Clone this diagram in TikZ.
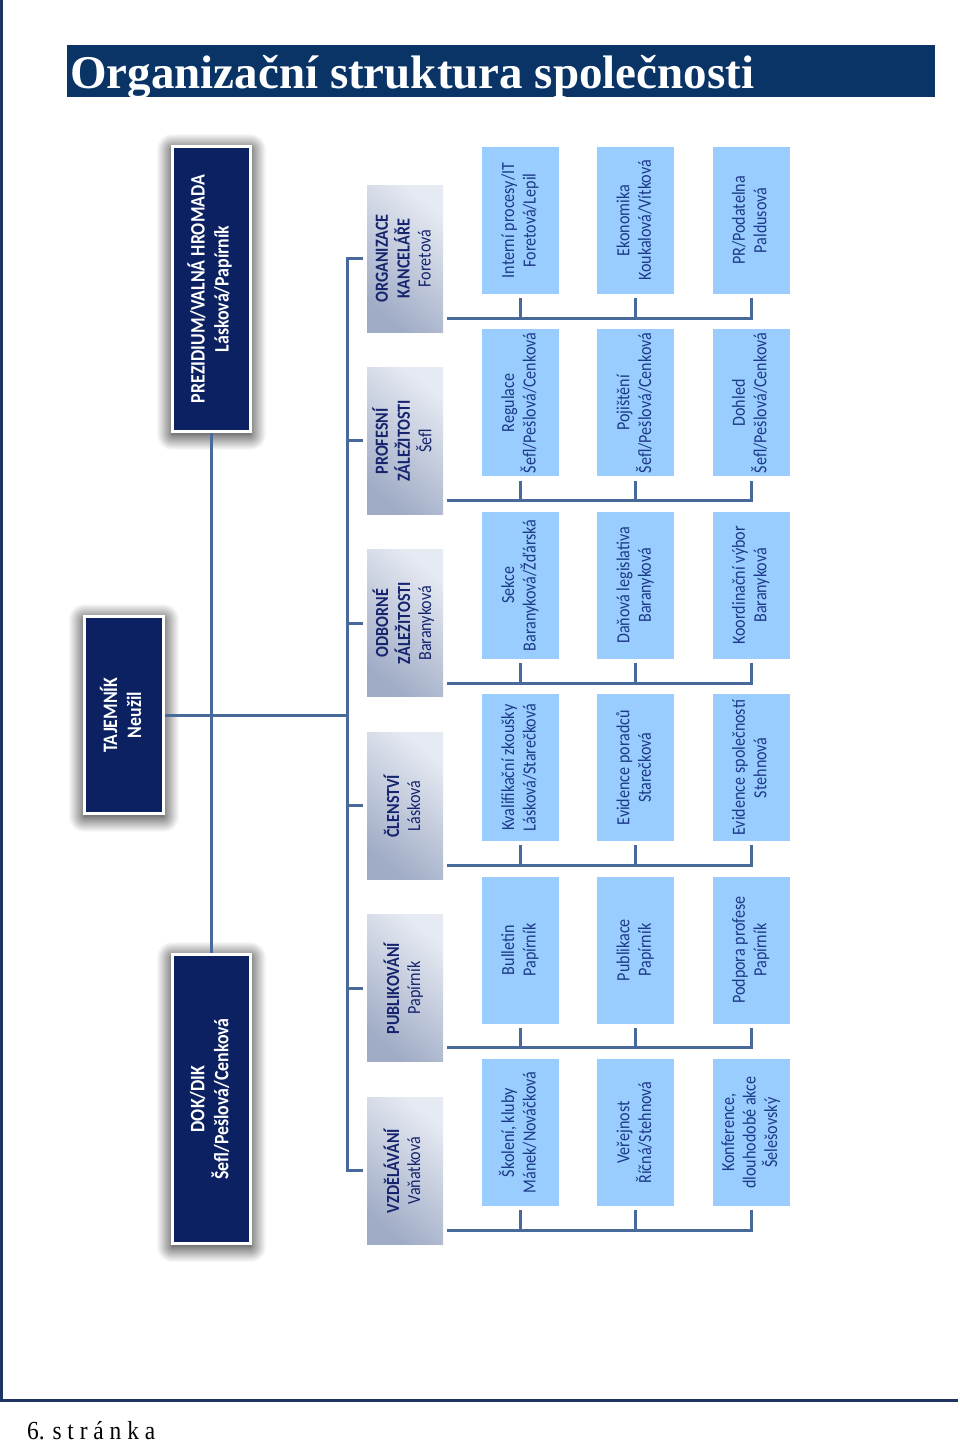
\documentclass[tikz,border=0pt]{standalone}
\usepackage{fontspec}
\setmainfont{Carlito}
\newfontfamily\serifface{Liberation Serif}
\usepackage{graphicx}
\usepackage{xcolor}
\usepackage{tikz}
\usetikzlibrary{positioning,calc,shadows.blur}

\definecolor{navybox}{RGB}{12,33,97}
\definecolor{titleblue}{RGB}{10,51,102}
\definecolor{leafblue}{RGB}{153,204,255}
\definecolor{leaftext}{RGB}{28,58,135}
\definecolor{greytext}{RGB}{22,36,110}
\definecolor{greylight}{RGB}{230,234,242}
\definecolor{greydark}{RGB}{160,172,198}
\definecolor{connblue}{RGB}{72,106,155}
\definecolor{pageline}{RGB}{31,52,96}

\newcommand{\vtxt}[1]{\rotatebox{90}{\scalebox{0.87}[1]{\begin{tabular}{@{}c@{}}#1\end{tabular}}}}

\begin{document}
\begin{tikzpicture}[x=1pt, y=-1pt,
  headbox/.style={draw=white, line width=3pt, fill=navybox, text=white,
    font=\fontsize{20.5}{24}\selectfont\bfseries, inner sep=0pt,
    minimum width=78pt, minimum height=285pt,
    blur shadow={shadow xshift=0pt, shadow yshift=-3pt, shadow blur steps=40,
      shadow blur radius=16pt, shadow opacity=100}},
  deptbox/.style={inner sep=0pt, minimum width=76pt, minimum height=147pt,
    top color=greylight, bottom color=greydark, shading angle=-40,
    text=greytext, font=\fontsize{18.5}{21}\selectfont},
  leafbox/.style={fill=leafblue, inner sep=0pt, minimum width=77pt,
    minimum height=147pt, text=leaftext, font=\fontsize{18.5}{21.5}\selectfont},
  conn/.style={draw=connblue, line width=3pt}
]
  \useasboundingbox (0,0) rectangle (960,1443);

  % page frame and title
  \draw[pageline, line width=3pt] (1.5,0) -- (1.5,1400) -- (958,1400);
  \node[fill=titleblue, minimum width=868pt, minimum height=52pt, inner sep=0pt,
    anchor=north west] (band) at (67,45) {};
  \node[anchor=base west, inner sep=0pt, text=white,
    font=\serifface\fontsize{47}{50}\selectfont\bfseries] (title) at (70,88)
    {Organizační struktura společnosti};
  \node[anchor=base west, inner sep=0pt, font=\serifface\fontsize{26}{28}\selectfont]
    (pagenum) at (27,1439) {\scalebox{0.9}[1]{6. s t r á n k a}};

  % top level
  \node[headbox] (prez) at (211.5,289)
    {\vtxt{PREZIDIUM/VALNÁ HROMADA\\Lásková/Papírník}};
  \node[headbox, minimum width=79pt, minimum height=197pt] (taj) at (124,715)
    {\vtxt{TAJEMNÍK\\Neužil}};
  \node[headbox, minimum height=289pt] (dok) at (211.5,1099)
    {\vtxt{DOK/DIK\\Šefl/Pešlová/Cenková}};

  % departments
  \node[deptbox] (org) at (405,258.5)
    {\vtxt{\textbf{ORGANIZACE}\\\textbf{KANCELÁŘE}\\Foretová}};
  \node[deptbox, below=35pt of org] (prof)
    {\vtxt{\textbf{PROFESNÍ}\\\textbf{ZÁLEŽITOSTI}\\Šefl}};
  \node[deptbox, below=35pt of prof] (odb)
    {\vtxt{\textbf{ODBORNÉ}\\\textbf{ZÁLEŽITOSTI}\\Baranyková}};
  \node[deptbox, below=35pt of odb] (clen)
    {\vtxt{\textbf{ČLENSTVÍ}\\Lásková}};
  \node[deptbox, below=35pt of clen] (pub)
    {\vtxt{\textbf{PUBLIKOVÁNÍ}\\Papírník}};
  \node[deptbox, below=35pt of pub] (vzd)
    {\vtxt{\textbf{VZDĚLÁVÁNÍ}\\Vaňatková}};

  % sections
  \node[leafbox] (org1) at (520.5,220.5) {\vtxt{Interní procesy/IT\\Foretová/Lepil}};
  \node[leafbox, right=38pt of org1] (org2) {\vtxt{Ekonomika\\Koukalová/Vítková}};
  \node[leafbox, right=38pt of org2] (org3) {\vtxt{PR/Podatelna\\Paldusová}};

  \node[leafbox, below=35pt of org1] (prof1) {\vtxt{Regulace\\Šefl/Pešlová/Cenková}};
  \node[leafbox, right=38pt of prof1] (prof2) {\vtxt{Pojištění\\Šefl/Pešlová/Cenková}};
  \node[leafbox, right=38pt of prof2] (prof3) {\vtxt{Dohled\\Šefl/Pešlová/Cenková}};

  \node[leafbox, below=35pt of prof1] (odb1) {\vtxt{Sekce\\Baranyková/Žďárská}};
  \node[leafbox, right=38pt of odb1] (odb2) {\vtxt{Daňová legislativa\\Baranyková}};
  \node[leafbox, right=38pt of odb2] (odb3) {\vtxt{Koordinační výbor\\Baranyková}};

  \node[leafbox, below=35pt of odb1] (clen1) {\vtxt{Kvalifikační zkoušky\\Lásková/Starečková}};
  \node[leafbox, right=38pt of clen1] (clen2) {\vtxt{Evidence poradců\\Starečková}};
  \node[leafbox, right=38pt of clen2] (clen3) {\vtxt{Evidence společností\\Stehnová}};

  \node[leafbox, below=35pt of clen1] (pub1) {\vtxt{Bulletin\\Papírník}};
  \node[leafbox, right=38pt of pub1] (pub2) {\vtxt{Publikace\\Papírník}};
  \node[leafbox, right=38pt of pub2] (pub3) {\vtxt{Podpora profese\\Papírník}};

  \node[leafbox, below=35pt of pub1] (vzd1) {\vtxt{Školení, kluby\\Mánek/Nováčková}};
  \node[leafbox, right=38pt of vzd1] (vzd2) {\vtxt{Veřejnost\\Říčná/Stehnová}};
  \node[leafbox, right=38pt of vzd2] (vzd3) {\vtxt{Konference,\\dlouhodobé akce\\Šelešovský}};

  % connectors
  \coordinate (spine) at (347,0);
  \draw[conn] (prez.south) -- (dok.north);
  \draw[conn] (taj.east) -- (taj.east -| spine);
  \draw[conn] ($(org.west)+(-4,0)$) -| (vzd.west -| spine) -- ($(vzd.west)+(-4,0)$);
  \draw[conn] (prof.west -| spine) -- ($(prof.west)+(-4,0)$);
  \draw[conn] (odb.west -| spine) -- ($(odb.west)+(-4,0)$);
  \draw[conn] (clen.west -| spine) -- ($(clen.west)+(-4,0)$);
  \draw[conn] (pub.west -| spine) -- ($(pub.west)+(-4,0)$);

  \coordinate (orgbus) at ($(org.south east)+(4,-14)$);
  \draw[conn] (orgbus) -| ($(org3.south)+(0,4)$);
  \draw[conn] ($(org1.south)+(0,4)$) -- (org1.south |- orgbus);
  \draw[conn] ($(org2.south)+(0,4)$) -- (org2.south |- orgbus);

  \coordinate (profbus) at ($(prof.south east)+(4,-14)$);
  \draw[conn] (profbus) -| ($(prof3.south)+(0,4)$);
  \draw[conn] ($(prof1.south)+(0,4)$) -- (prof1.south |- profbus);
  \draw[conn] ($(prof2.south)+(0,4)$) -- (prof2.south |- profbus);

  \coordinate (odbbus) at ($(odb.south east)+(4,-14)$);
  \draw[conn] (odbbus) -| ($(odb3.south)+(0,4)$);
  \draw[conn] ($(odb1.south)+(0,4)$) -- (odb1.south |- odbbus);
  \draw[conn] ($(odb2.south)+(0,4)$) -- (odb2.south |- odbbus);

  \coordinate (clenbus) at ($(clen.south east)+(4,-14)$);
  \draw[conn] (clenbus) -| ($(clen3.south)+(0,4)$);
  \draw[conn] ($(clen1.south)+(0,4)$) -- (clen1.south |- clenbus);
  \draw[conn] ($(clen2.south)+(0,4)$) -- (clen2.south |- clenbus);

  \coordinate (pubbus) at ($(pub.south east)+(4,-14)$);
  \draw[conn] (pubbus) -| ($(pub3.south)+(0,4)$);
  \draw[conn] ($(pub1.south)+(0,4)$) -- (pub1.south |- pubbus);
  \draw[conn] ($(pub2.south)+(0,4)$) -- (pub2.south |- pubbus);

  \coordinate (vzdbus) at ($(vzd.south east)+(4,-14)$);
  \draw[conn] (vzdbus) -| ($(vzd3.south)+(0,4)$);
  \draw[conn] ($(vzd1.south)+(0,4)$) -- (vzd1.south |- vzdbus);
  \draw[conn] ($(vzd2.south)+(0,4)$) -- (vzd2.south |- vzdbus);
\end{tikzpicture}
\end{document}
